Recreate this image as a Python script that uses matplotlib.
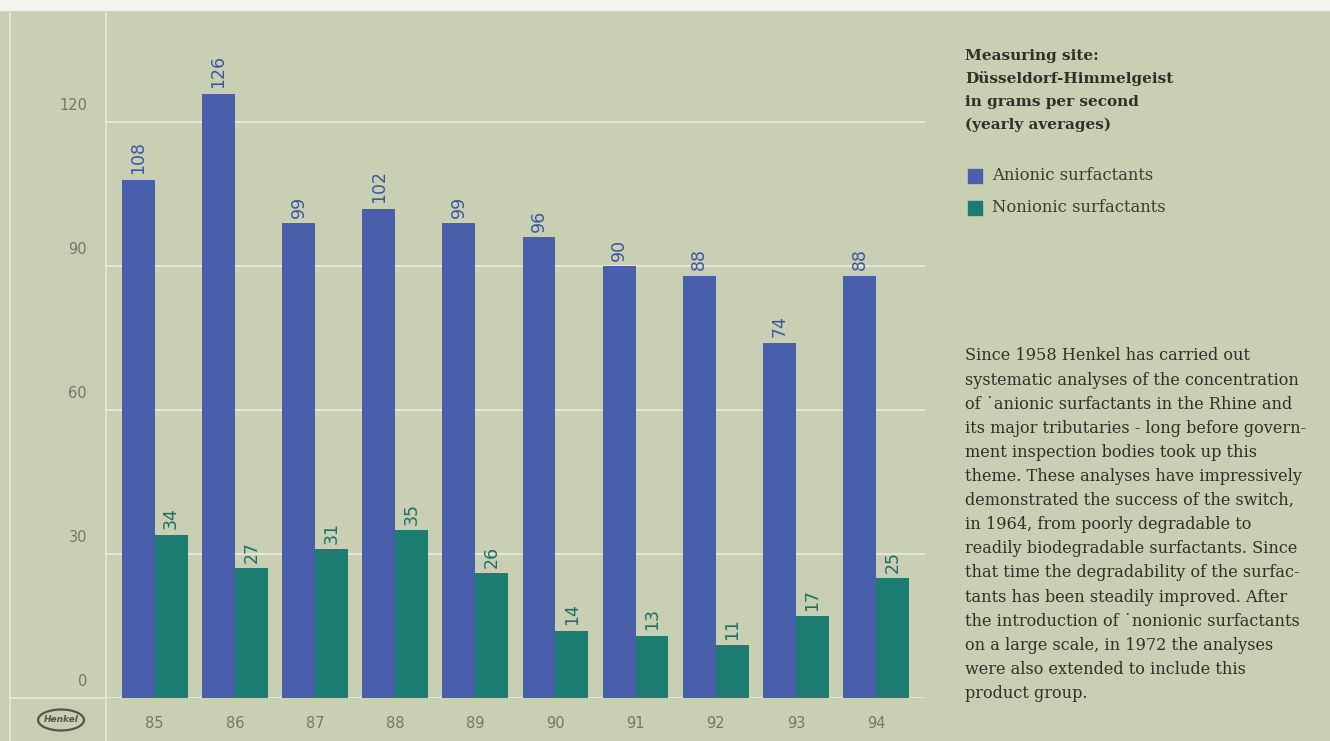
import matplotlib.pyplot as plt
from matplotlib.patches import Ellipse, Rectangle
from matplotlib.lines import Line2D
import numpy as np

years = ['85', '86', '87', '88', '89', '90', '91', '92', '93', '94']
anionic = [108, 126, 99, 102, 99, 96, 90, 88, 74, 88]
nonionic = [34, 27, 31, 35, 26, 14, 13, 11, 17, 25]
yticks = [0, 30, 60, 90, 120]

bg = '#c8cfb3'
blue = '#4a5fab'
teal = '#1e7d72'
grid = '#e4e8d6'
tick_col = '#74776a'

fig = plt.figure(figsize=(13.3, 7.41), dpi=100, facecolor=bg)
ax = fig.add_axes([105/1330, 43/741, 820/1330, 686/741])
ax.set_facecolor(bg)

x = np.arange(len(years))
width = 0.41
b1 = ax.bar(x - width/2, anionic, width, color=blue, zorder=3)
b2 = ax.bar(x + width/2, nonionic, width, color=teal, zorder=3)

ax.bar_label(b1, padding=4, rotation=90, color='#3d55a3', fontsize=12.5)
ax.bar_label(b2, padding=4, rotation=90, color='#1b6f66', fontsize=12.5)

ax.set_xlim(-0.62, 9.61)
ax.set_ylim(0, 143)
for v in yticks:
    ax.axhline(v, color=grid, lw=1.4, zorder=1)
    # y labels sit a little above their grid lines
    ax.annotate(str(v), xy=(0, v), xycoords=('axes fraction', 'data'),
                xytext=(-13, 12), textcoords='offset points', ha='right',
                va='center', color=tick_col, fontsize=10.5)
ax.set_yticks([])
ax.set_xticks(x)
ax.set_xticklabels(years)
ax.tick_params(length=0, colors=tick_col, labelsize=10.5)
ax.tick_params(axis='x', pad=13)
for s in ax.spines.values():
    s.set_visible(False)

# frame lines
fig.add_artist(Rectangle((0, 731/741), 1, 10/741, transform=fig.transFigure,
                         color='#f4f4ee', zorder=0))
fig.add_artist(Line2D([10/1330, 10/1330], [0, 731/741], color=grid, lw=1.2))
fig.add_artist(Line2D([106/1330, 106/1330], [0, 731/741], color=grid, lw=1.2))
fig.add_artist(Line2D([10/1330, 105/1330], [43/741, 43/741], color=grid, lw=1.4))

# Henkel logo
fig.add_artist(Ellipse((61/1330, 21/741), 46/1330, 21/741, transform=fig.transFigure,
                       fill=False, ec='#55574c', lw=1.6))
fig.text(61/1330, 21/741, 'Henkel', ha='center', va='center', fontsize=6.5,
         color='#55574c', fontweight='bold', style='italic')

# right side text
serif = 'DejaVu Serif'
head = ['Measuring site:', 'Düsseldorf-Himmelgeist', 'in grams per second',
        '(yearly averages)']
for i, line in enumerate(head):
    fig.text(965/1330, 1 - (56 + i*23)/741, line, family=serif, fontsize=11,
             color='#2e3128', fontweight='bold', va='center')

fig.add_artist(Rectangle((968/1330, 1 - 183/741), 14/1330, 14/741,
                         transform=fig.transFigure, color=blue))
fig.add_artist(Rectangle((968/1330, 1 - 215/741), 14/1330, 14/741,
                         transform=fig.transFigure, color=teal))
fig.text(992/1330, 1 - 176/741, 'Anionic surfactants', family=serif, fontsize=11.8,
         color='#3a3d34', va='center')
fig.text(992/1330, 1 - 208/741, 'Nonionic surfactants', family=serif, fontsize=11.8,
         color='#3a3d34', va='center')

para = ['Since 1958 Henkel has carried out',
        'systematic analyses of the concentration',
        'of \u02d9anionic surfactants in the Rhine and',
        'its major tributaries - long before govern-',
        'ment inspection bodies took up this',
        'theme. These analyses have impressively',
        'demonstrated the success of the switch,',
        'in 1964, from poorly degradable to',
        'readily biodegradable surfactants. Since',
        'that time the degradability of the surfac-',
        'tants has been steadily improved. After',
        'the introduction of \u02d9nonionic surfactants',
        'on a large scale, in 1972 the analyses',
        'were also extended to include this',
        'product group.']
for i, line in enumerate(para):
    fig.text(965/1330, 1 - (356 + i*24.1)/741, line, family=serif, fontsize=11.6,
             color='#2e3128', va='center')

fig.savefig('out.png', dpi=100, facecolor=bg)
